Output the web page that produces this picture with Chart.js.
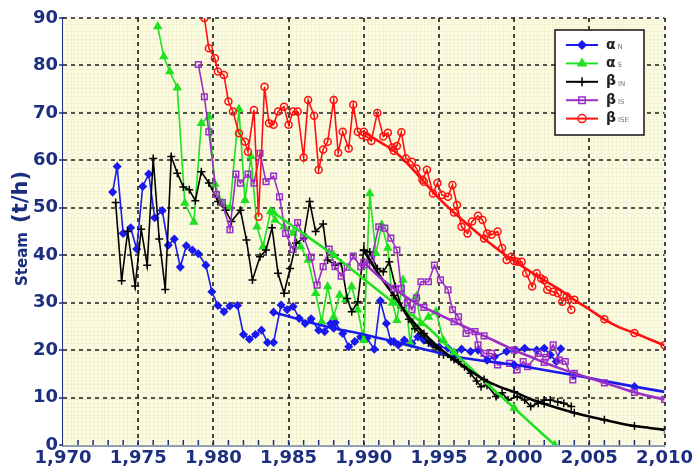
<!DOCTYPE html>
<html>
<head>
<meta charset="utf-8">
<script src="https://cdn.jsdelivr.net/npm/chart.js@4.4.1/dist/chart.umd.min.js"></script>
<style>
  html, body { margin: 0; padding: 0; background: #fff; }
  #wrap { width: 696px; height: 473px; }
</style>
</head>
<body>
<div id="wrap"><canvas id="steamChart" width="696" height="473"></canvas></div>
<script>
// [year, t/h]
const alphaN = [[1973.3,53.3],[1973.6,58.7],[1974.0,44.6],[1974.5,45.8],[1974.9,41.3],[1975.3,54.5],[1975.7,57.1],[1976.1,47.9],[1976.6,49.4],[1977.0,42.1],[1977.4,43.4],[1977.8,37.5],[1978.2,42.0],[1978.6,41.1],[1979.0,40.3],[1979.5,37.9],[1979.9,32.3],[1980.3,29.4],[1980.7,28.1],[1981.1,29.3],[1981.6,29.4],[1982.0,23.3],[1982.4,22.3],[1982.8,23.3],[1983.2,24.2],[1983.6,21.6],[1984.0,21.6],[1984.5,29.5],[1984.9,28.5],[1985.3,29.2],[1985.7,26.7],[1986.1,25.6],[1986.5,26.6],[1987.0,24.2],[1987.4,23.9],[1987.8,25.6],[1988.1,25.8],[1988.6,23.5],[1989.0,20.7],[1989.4,21.8],[1989.8,22.8],[1990.2,22.5],[1990.7,20.2],[1991.1,30.4],[1991.5,25.6],[1991.8,21.8],[1992.3,21.1],[1992.7,22.1],[1993.2,21.4],[1993.6,22.8],[1994.0,22.1],[1994.5,21.4],[1995.0,20.7],[1995.6,20.4],[1996.0,19.5],[1996.5,20.2],[1997.1,19.7],[1997.6,20.0],[1998.2,17.9],[1998.7,18.6],[1999.5,19.7],[2000.1,20.0],[2000.7,20.4],[2001.5,20.0],[2002.0,20.4],[2002.4,19.0],[2002.8,17.6],[2003.1,20.3]]
const alphaNFit = [[1984,28],[1986,26.2],[1988,24.6],[1990,23.3],[1992,21.8],[1994,20.2],[1996,18.7],[1998,17.7],[2000,16.9],[2002,15.8],[2004,14.7],[2006,13.5],[2008,12.3],[2010,11.2]]

const alphaS = [[1976.3,88.2],[1976.7,81.9],[1977.1,78.7],[1977.6,75.3],[1978.1,51],[1978.7,47],[1979.2,67.8],[1979.7,69.2],[1980.1,55],[1980.6,51],[1981.1,50],[1981.7,70.8],[1982.1,51.6],[1982.5,60.8],[1982.9,46],[1983.3,41.8],[1983.8,49.2],[1984.1,47.4],[1984.7,46],[1985.3,44.7],[1985.8,41.8],[1986.3,39],[1986.8,32],[1987.2,26],[1987.6,33.4],[1988.0,27],[1988.4,31.6],[1988.8,30.6],[1989.2,33.4],[1989.6,28.5],[1990.0,22.1],[1990.4,53],[1990.8,40.4],[1991.2,46.4],[1991.6,41.5],[1991.9,30],[1992.2,26.3],[1992.6,34.8],[1993.1,21.4],[1993.5,31.3],[1993.8,25.6],[1994.3,27],[1994.8,28.1],[1995.3,22]]
const alphaSFit = [[1984,49],[1986,44.5],[1988,40],[1990,35],[1992,30],[1994,25.5],[1996,19.5],[1998,13.5],[2000,7.8],[2002,2],[2002.7,0]]

const betaIN = [[1973.5,51.1],[1973.9,34.6],[1974.3,45],[1974.8,33.5],[1975.2,45.5],[1975.6,37.9],[1976.0,60.4],[1976.4,43.4],[1976.8,32.8],[1977.2,60.8],[1977.6,57.3],[1978.0,54.4],[1978.4,53.8],[1978.8,51.5],[1979.2,57.6],[1979.7,55.2],[1980.3,51.3],[1980.8,49.5],[1981.2,47.1],[1981.8,49.5],[1982.2,43.2],[1982.6,34.8],[1983.1,39.7],[1983.5,41.1],[1983.9,45.8],[1984.3,36.2],[1984.7,32],[1985.1,37.2],[1985.5,42.5],[1986.0,43.6],[1986.4,51.3],[1986.8,45],[1987.3,46.6],[1987.6,39],[1988.1,37.9],[1988.5,38.3],[1988.9,30.9],[1989.2,28.1],[1989.6,30.2],[1990.0,41.1],[1990.4,40.7],[1990.9,37.2],[1991.3,36.5],[1991.7,38.6],[1992.1,33.4],[1992.5,29],[1993.0,26.5],[1993.4,24.5],[1993.8,23.5],[1994.3,21.5],[1994.8,20.5],[1995.3,19],[1995.8,18.5],[1996.3,17.6],[1996.7,16.5],[1997.1,15.1],[1997.5,13.5],[1997.8,12.3],[1998.2,12.6],[1998.8,10.2],[1999.2,11],[1999.6,9.5],[2000.2,10.2],[2000.7,9.5],[2001.1,8.1],[2001.6,8.8],[2002.0,9.5],[2002.4,9.5],[2002.9,9.1],[2003.3,8.8],[2003.8,8.1]]
const betaINFit = [[1990,41],[1991,36],[1992,31.5],[1993,27],[1994,23.5],[1995,20.5],[1996,18],[1997,15.8],[1998,13.8],[1999,12.3],[2000,11.2],[2001,9.8],[2002,8.7],[2003,7.7],[2004,6.8],[2005,6.0],[2006,5.3],[2007,4.6],[2008,4.0],[2009,3.6],[2010,3.2]]

const betaIS = [[1979.0,80.2],[1979.4,73.4],[1979.7,66],[1980.2,52.8],[1980.6,51.1],[1981.1,45.4],[1981.5,57.1],[1981.8,55.2],[1982.3,57.1],[1982.7,55.2],[1983.1,61.5],[1983.5,55.5],[1984.0,56.7],[1984.4,52.3],[1984.8,44.6],[1985.3,41.2],[1985.6,46.9],[1986.0,43.9],[1986.5,39.6],[1986.9,33.7],[1987.3,37.6],[1987.7,41.3],[1988.1,37.6],[1988.5,35.6],[1988.9,37.5],[1989.3,39.8],[1989.8,37.6],[1990.2,38],[1990.5,39.2],[1991.0,46],[1991.4,45.7],[1991.8,43.6],[1992.2,41.1],[1992.5,33],[1992.9,30],[1993.2,28.5],[1993.5,31],[1993.8,34.4],[1994.3,34.4],[1994.7,37.9],[1995.1,34.8],[1995.6,32.7],[1995.9,28.5],[1996.3,27],[1996.8,23.5],[1997.4,23.9],[1997.6,21.1],[1998.0,19.3],[1998.5,19.3],[1998.9,16.9],[1999.7,17.2],[2000.2,15.8],[2000.6,17.6],[2000.9,16.5],[2001.6,19.3],[2002.1,18.5],[2002.6,21.1],[2003.0,17.9],[2003.4,17.6],[2003.9,13.7]]
const betaISFit = [[1990,38.5],[1991,35.5],[1992,33],[1993,30.8],[1994,29],[1995,27.5],[1996,26],[1997,24.5],[1998,23],[1999,21.5],[2000,20],[2001,18.7],[2002,17.4],[2003,16.2],[2004,15.1],[2005,14.1],[2006,13.1],[2007,12.1],[2008,11.1],[2009,10.3],[2010,9.6]]

const betaISE = [[1979.4,90],[1979.7,83.6],[1980.1,81.5],[1980.3,78.7],[1980.7,78],[1981.0,72.4],[1981.3,70.3],[1981.7,65.7],[1982.1,63.9],[1982.3,61.8],[1982.7,70.6],[1983.0,48.1],[1983.4,75.5],[1983.7,67.8],[1984.0,67.5],[1984.3,70.3],[1984.7,71.3],[1985.0,67.5],[1985.3,70.3],[1985.6,70.3],[1986.0,60.6],[1986.3,72.7],[1986.7,69.4],[1987.0,58],[1987.3,62.3],[1987.6,63.9],[1988.0,72.7],[1988.3,61.6],[1988.6,66],[1989.0,62.5],[1989.3,71.7],[1989.6,66],[1989.9,65.3],[1990.2,65],[1990.5,64.1],[1990.9,70],[1991.3,65],[1991.6,65.8],[1991.9,62.7],[1992.2,63],[1992.5,65.9],[1992.8,60.4],[1993.2,59.7],[1993.5,58.3],[1993.9,55.9],[1994.2,58],[1994.6,53],[1994.9,55.2],[1995.2,52.7],[1995.6,52.3],[1995.9,54.8],[1996.2,50.6],[1996.5,46],[1996.9,44.6],[1997.2,47.1],[1997.6,48.3],[1997.9,47.4],[1998.2,44.6],[1998.5,44.3],[1998.9,45],[1999.2,41.5],[1999.5,39],[1999.8,39.7],[2000.2,38.6],[2000.5,38.6],[2000.8,36.2],[2001.2,33.4],[2001.5,36.2],[2001.8,35.1],[2002.2,32.7],[2002.6,32.3],[2002.9,32],[2003.2,30.2],[2003.5,31.3],[2003.8,28.5]]
const betaISEFit = [[1990,66],[1991,64],[1992,62],[1993,59],[1994,55.5],[1995,52],[1996,49],[1997,46.2],[1998,43.5],[1999,41],[2000,38.8],[2001,36.7],[2002,34.7],[2003,32.8],[2004,30.6],[2005,28.6],[2006,26.5],[2007,24.8],[2008,23.6],[2009,22.3],[2010,21]]

const legendLabels = [['α', 'N'], ['α', 'S'], ['β', 'IN'], ['β', 'IS'], ['β', 'ISE']]

const navy = '#1b2f7e'

const series = [
  { raw: alphaN, fit: alphaNFit, color: '#1a1aee', fill: '#1a1aee', style: 'rectRot', r: 3.5 },
  { raw: alphaS, fit: alphaSFit, color: '#22e022', fill: '#22e022', style: 'triangle', r: 4 },
  { raw: betaIN, fit: betaINFit, color: '#000000', fill: '#000000', style: 'cross', r: 4 },
  { raw: betaIS, fit: betaISFit, color: '#9a2fc8', fill: 'rgba(0,0,0,0)', style: 'rect', r: 4 },
  { raw: betaISE, fit: betaISEFit, color: '#ff1010', fill: 'rgba(0,0,0,0)', style: 'circle', r: 3.5 },
]

const toXY = (arr) => arr.map(([x, y]) => ({ x, y }))

const datasets = []
series.forEach((s, i) => {
  datasets.push({
    data: toXY(s.raw),
    borderColor: s.color,
    backgroundColor: s.fill,
    borderWidth: 1.6,
    pointStyle: s.style,
    pointRadius: s.r,
    pointBorderWidth: 1.5,
    tension: 0,
    order: 10 - i,
  })
  datasets.push({
    data: toXY(s.fit),
    borderColor: s.color,
    backgroundColor: s.fill,
    borderWidth: 2.6,
    pointStyle: s.style,
    pointRadius: (c) => (c.dataIndex % 2 ? 0 : s.r),
    pointBorderWidth: 1.5,
    cubicInterpolationMode: 'monotone',
    order: 5 - i,
  })
})

/**
 * Fond jaune pâle, quadrillage fin et grille pointillée.
 */
const backdrop = {
  id: 'backdrop',
  beforeDatasetsDraw(chart) {
    const { ctx, chartArea: a, scales: { x, y } } = chart
    ctx.save()
    ctx.fillStyle = '#fcfce4'
    ctx.fillRect(a.left, a.top, a.right - a.left, a.bottom - a.top)
    ctx.strokeStyle = 'rgba(238,238,200,0.6)'
    ctx.lineWidth = 1
    ctx.beginPath()
    for (let v = 1970; v <= 2010; v += 0.25) {
      const px = Math.round(x.getPixelForValue(v)) + 0.5
      ctx.moveTo(px, a.top)
      ctx.lineTo(px, a.bottom)
    }
    for (let v = 0; v <= 90; v += 0.8) {
      const py = Math.round(y.getPixelForValue(v)) + 0.5
      ctx.moveTo(a.left, py)
      ctx.lineTo(a.right, py)
    }
    ctx.stroke()

    ctx.strokeStyle = '#1a1a1a'
    ctx.lineWidth = 1.6
    ctx.setLineDash([4, 4])
    ctx.beginPath()
    for (let yr = 1975; yr <= 2010; yr += 5) {
      const px = Math.round(x.getPixelForValue(yr))
      ctx.moveTo(px, a.top)
      ctx.lineTo(px, a.bottom)
    }
    for (let v = 10; v <= 90; v += 10) {
      const py = Math.round(y.getPixelForValue(v))
      ctx.moveTo(a.left, py)
      ctx.lineTo(a.right, py)
    }
    ctx.stroke()
    ctx.restore()
  },
}

/**
 * Graduations, titre de l'axe et légende encadrée.
 */
const extras = {
  id: 'extras',
  afterDraw(chart) {
    const { ctx, chartArea: a, scales: { x, y } } = chart
    ctx.save()
    ctx.strokeStyle = navy
    ctx.lineWidth = 1.5
    ctx.beginPath()
    for (let yr = 1971; yr < 2010; yr++) {
      const px = x.getPixelForValue(yr)
      ctx.moveTo(px, a.bottom)
      ctx.lineTo(px, a.bottom - 5)
    }
    for (let v = 0; v <= 90; v += 10) {
      const py = Math.round(y.getPixelForValue(v))
      ctx.moveTo(a.left - 4, py)
      ctx.lineTo(a.left, py)
    }
    ctx.stroke()

    // titre Y
    ctx.translate(27, 286)
    ctx.rotate(-Math.PI / 2)
    ctx.fillStyle = navy
    ctx.textBaseline = 'alphabetic'
    ctx.font = 'bold 15px "DejaVu Sans"'
    ctx.fillText('Steam', 0, 0)
    const w = ctx.measureText('Steam ').width
    ctx.font = 'bold 21px "DejaVu Sans"'
    ctx.fillText('(t/h)', w + 4, 0)
    ctx.restore()

    // légende
    ctx.save()
    const bx = 555, by = 30, bw = 89, bh = 105
    ctx.fillStyle = '#ffffff'
    ctx.fillRect(bx, by, bw, bh)
    ctx.strokeStyle = '#111'
    ctx.lineWidth = 1.5
    ctx.strokeRect(bx, by, bw, bh)
    series.forEach((s, i) => {
      const ry = 45 + i * 18.4
      ctx.strokeStyle = s.color
      ctx.lineWidth = 2
      ctx.beginPath()
      ctx.moveTo(566, ry)
      ctx.lineTo(598, ry)
      ctx.stroke()
      ctx.fillStyle = s.fill
      ctx.strokeStyle = s.color
      ctx.lineWidth = 1.5
      Chart.helpers.drawPoint(ctx, { pointStyle: s.style, radius: s.r + 0.5, borderWidth: 1.5 }, 582, ry)
      const [g, sub] = legendLabels[i]
      ctx.fillStyle = '#222'
      ctx.textBaseline = 'middle'
      ctx.font = 'bold 14px "DejaVu Sans"'
      ctx.fillText(g, 606, ry)
      const gw = ctx.measureText(g).width
      ctx.fillStyle = '#777'
      ctx.font = '7px "DejaVu Sans"'
      ctx.fillText(sub, 606 + gw + 2, ry + 2)
    })
    ctx.restore()
  },
}

const tickFont = { family: 'DejaVu Sans', weight: 'bold', size: 18 }

new Chart(document.querySelector('#steamChart'), {
  type: 'line',
  data: { datasets },
  options: {
    responsive: false,
    animation: false,
    layout: { padding: { top: 18, right: 29, left: 0, bottom: 0 } },
    plugins: { legend: { display: false }, tooltip: { enabled: false } },
    scales: {
      x: {
        type: 'linear',
        min: 1970,
        max: 2010,
        ticks: { stepSize: 5, color: navy, font: tickFont, padding: 3, maxRotation: 0 },
        grid: { display: false, drawTicks: false },
        border: { color: navy, width: 2.5 },
        afterFit: (scale) => { scale.height = 28 },
      },
      y: {
        min: 0,
        max: 90,
        ticks: { stepSize: 10, color: navy, font: tickFont, padding: 5 },
        grid: { display: false, drawTicks: false },
        border: { color: navy, width: 2.5 },
        afterFit: (scale) => { scale.width = 63 },
      },
    },
  },
  plugins: [backdrop, extras],
})
</script>
</body>
</html>
